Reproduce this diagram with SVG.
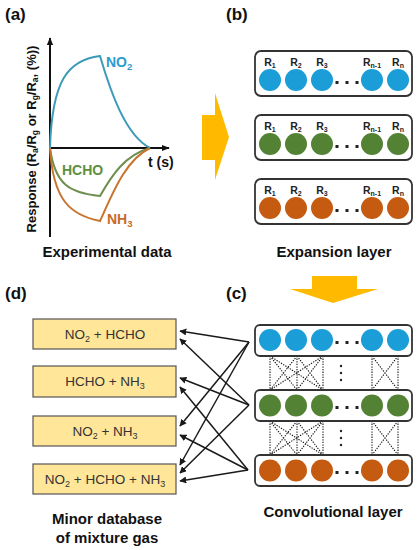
<svg xmlns="http://www.w3.org/2000/svg" width="419" height="550" viewBox="0 0 419 550">
<style>
text{font-family:"Liberation Sans",Arial,sans-serif}
.lbl{font-size:17px;font-weight:bold;fill:#111}
.cap{font-size:15px;font-weight:bold;fill:#111;text-anchor:middle}
.r{font-size:10.5px;font-weight:bold;fill:#222;text-anchor:middle}
.gas{font-size:13.5px;fill:#333;text-anchor:middle}
.box{fill:#fff;stroke:#333;stroke-width:1.8}
.ybox{fill:#FFE699;stroke:#555;stroke-width:1.2}
.b{fill:#1b9dd8}.g{fill:#548235}.o{fill:#c55a11}
.dot{fill:#222}
.conn{stroke:#1a1a1a;stroke-width:1.5;fill:none;marker-end:url(#ah)}
.dash{stroke:#111;stroke-width:1.1;stroke-dasharray:1.3 1.3;fill:none}
.axis{stroke:#111;stroke-width:2;fill:none}
</style>
<defs>
<marker id="ah" viewBox="0 0 10 10" refX="9" refY="5" markerWidth="7" markerHeight="7" markerUnits="userSpaceOnUse" orient="auto">
<path d="M0,0 L10,5 L0,10 z" fill="#1a1a1a"/>
</marker>
<marker id="axh" viewBox="0 0 10 10" refX="9" refY="5" markerWidth="8" markerHeight="8" markerUnits="userSpaceOnUse" orient="auto">
<path d="M0,1 L10,5 L0,9 z" fill="#111"/>
</marker>
<g id="rowlabels">
<text class="r" x="270" y="0">R<tspan font-size="7" dy="2">1</tspan></text>
<text class="r" x="296" y="0">R<tspan font-size="7" dy="2">2</tspan></text>
<text class="r" x="322" y="0">R<tspan font-size="7" dy="2">3</tspan></text>
<text class="r" x="372" y="0">R<tspan font-size="7" dy="2">n-1</tspan></text>
<text class="r" x="398" y="0">R<tspan font-size="7" dy="2">n</tspan></text>
</g>
<g id="dots">
<rect class="dot" x="335.5" y="0" width="3" height="3"/>
<rect class="dot" x="345.5" y="0" width="3" height="3"/>
<rect class="dot" x="355.5" y="0" width="3" height="3"/>
</g>
<g id="mesh">
<path class="dash" d="M270,0V34M297,0V34M323,0V34M372,0V34M398,0V34M270,0L297,34M270,0L323,34M297,0L270,34M297,0L323,34M323,0L270,34M323,0L297,34M372,0L398,34M398,0L372,34"/>
<circle class="dot" cx="341" cy="10" r="1.2"/>
<circle class="dot" cx="341" cy="17" r="1.2"/>
<circle class="dot" cx="341" cy="24" r="1.2"/>
</g>
</defs>

<!-- Panel labels -->
<text class="lbl" x="5" y="20">(a)</text>
<text class="lbl" x="226" y="20">(b)</text>
<text class="lbl" x="226" y="299">(c)</text>
<text class="lbl" x="5" y="299">(d)</text>

<!-- (a) Experimental data -->
<g id="experimental-data">
<path class="axis" d="M50,237 V38" marker-end="url(#axh)"/>
<path class="axis" d="M50,148 H169" marker-end="url(#axh)"/>
<path d="M50,148 C52,80 68,60 100,56 C110,90 125,135 150,148" fill="none" stroke="#3d9bb8" stroke-width="2"/>
<path d="M50,148 C55,185 70,193 100,196 C112,175 125,155 150,148" fill="none" stroke="#6e8f4f" stroke-width="2"/>
<path d="M50,148 C53,200 70,215 100,221 C112,195 125,160 150,148" fill="none" stroke="#c8742e" stroke-width="2"/>
<text x="106" y="67" font-size="14" font-weight="bold" fill="#2e9bd0">NO<tspan font-size="9.5" dy="3">2</tspan></text>
<text x="62" y="175" font-size="14" font-weight="bold" fill="#5e8f3e">HCHO</text>
<text x="107" y="224" font-size="14" font-weight="bold" fill="#c86a2a">NH<tspan font-size="9.5" dy="3">3</tspan></text>
<text x="148" y="167" font-size="14" font-weight="bold" fill="#111">t (s)</text>
<text transform="translate(36,139) rotate(-90)" text-anchor="middle" font-size="13" font-weight="bold" fill="#111">Response (R<tspan font-size="8.5" dy="2">a</tspan><tspan dy="-2">/R</tspan><tspan font-size="8.5" dy="2">g</tspan><tspan dy="-2"> or R</tspan><tspan font-size="8.5" dy="2">g</tspan><tspan dy="-2">/R</tspan><tspan font-size="8.5" dy="2">a</tspan><tspan dy="-2">, (%))</tspan></text>
<text class="cap" x="107" y="257">Experimental data</text>
</g>

<!-- arrows -->
<polygon id="arrow-right" points="202,115 215,115 215,93 229,137 215,180 215,160 202,160" fill="#FFBA00"/>
<polygon id="arrow-down" points="312,276 357,276 357,289 378,289 333,303 290,289 312,289" fill="#FFBA00"/>

<!-- (b) Expansion layer -->
<g id="expansion-blue">
<rect class="box" x="255" y="51" width="157" height="45" rx="6"/>
<use href="#rowlabels" y="66"/>
<circle class="b" cx="270" cy="80" r="11"/><circle class="b" cx="296" cy="80" r="11"/><circle class="b" cx="322" cy="80" r="11"/><circle class="b" cx="372" cy="80" r="11"/><circle class="b" cx="398" cy="80" r="11"/>
<use href="#dots" y="81"/>
</g>
<g id="expansion-green">
<rect class="box" x="255" y="115" width="157" height="45" rx="6"/>
<use href="#rowlabels" y="130"/>
<circle class="g" cx="270" cy="144" r="11"/><circle class="g" cx="296" cy="144" r="11"/><circle class="g" cx="322" cy="144" r="11"/><circle class="g" cx="372" cy="144" r="11"/><circle class="g" cx="398" cy="144" r="11"/>
<use href="#dots" y="145"/>
</g>
<g id="expansion-orange">
<rect class="box" x="255" y="179" width="157" height="45" rx="6"/>
<use href="#rowlabels" y="194"/>
<circle class="o" cx="270" cy="208" r="11"/><circle class="o" cx="296" cy="208" r="11"/><circle class="o" cx="322" cy="208" r="11"/><circle class="o" cx="372" cy="208" r="11"/><circle class="o" cx="398" cy="208" r="11"/>
<use href="#dots" y="209"/>
</g>
<text class="cap" x="334" y="257">Expansion layer</text>

<!-- (c) Convolutional layer -->
<use href="#mesh" y="356"/>
<use href="#mesh" y="421"/>
<g id="conv-blue">
<rect class="box" x="255" y="325" width="157" height="31" rx="5"/>
<circle class="b" cx="270" cy="340" r="11"/><circle class="b" cx="296" cy="340" r="11"/><circle class="b" cx="322" cy="340" r="11"/><circle class="b" cx="372" cy="340" r="11"/><circle class="b" cx="398" cy="340" r="11"/>
<use href="#dots" y="341"/>
</g>
<g id="conv-green">
<rect class="box" x="255" y="390" width="157" height="31" rx="5"/>
<circle class="g" cx="270" cy="405.5" r="11"/><circle class="g" cx="296" cy="405.5" r="11"/><circle class="g" cx="322" cy="405.5" r="11"/><circle class="g" cx="372" cy="405.5" r="11"/><circle class="g" cx="398" cy="405.5" r="11"/>
<use href="#dots" y="406"/>
</g>
<g id="conv-orange">
<rect class="box" x="255" y="455" width="157" height="31" rx="5"/>
<circle class="o" cx="270" cy="470.5" r="11"/><circle class="o" cx="296" cy="470.5" r="11"/><circle class="o" cx="322" cy="470.5" r="11"/><circle class="o" cx="372" cy="470.5" r="11"/><circle class="o" cx="398" cy="470.5" r="11"/>
<use href="#dots" y="471"/>
</g>
<text class="cap" x="333" y="517">Convolutional layer</text>

<!-- (d) Minor database -->
<g id="gas-no2-hcho">
<rect class="ybox" x="33" y="319" width="143" height="30"/>
<text class="gas" x="105" y="339">NO<tspan font-size="9" dy="3">2</tspan><tspan dy="-3"> + HCHO</tspan></text>
</g>
<g id="gas-hcho-nh3">
<rect class="ybox" x="33" y="366" width="143" height="31"/>
<text class="gas" x="105" y="386">HCHO + NH<tspan font-size="9" dy="3">3</tspan></text>
</g>
<g id="gas-no2-nh3">
<rect class="ybox" x="33" y="416" width="143" height="30"/>
<text class="gas" x="105" y="436">NO<tspan font-size="9" dy="3">2</tspan><tspan dy="-3"> + NH</tspan><tspan font-size="9" dy="3">3</tspan></text>
</g>
<g id="gas-all">
<rect class="ybox" x="33" y="464" width="143" height="30"/>
<text class="gas" x="105" y="484">NO<tspan font-size="9" dy="3">2</tspan><tspan dy="-3"> + HCHO + NH</tspan><tspan font-size="9" dy="3">3</tspan></text>
</g>
<text class="cap" x="107" y="524">Minor database</text>
<text class="cap" x="107" y="543">of mixture gas</text>

<!-- connectors -->
<g id="connectors">
<path class="conn" d="M249,342 L180,331"/>
<path class="conn" d="M249,405 L180,339"/>
<path class="conn" d="M249,405 L180,378"/>
<path class="conn" d="M248,470 L180,387"/>
<path class="conn" d="M249,342 L180,426"/>
<path class="conn" d="M248,470 L180,435"/>
<path class="conn" d="M249,342 L180,465"/>
<path class="conn" d="M249,405 L180,473"/>
<path class="conn" d="M248,470 L180,481"/>
</g>
</svg>
